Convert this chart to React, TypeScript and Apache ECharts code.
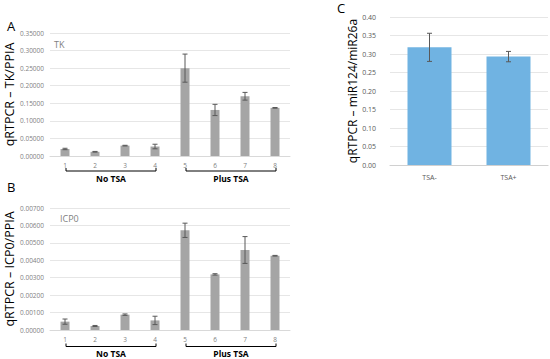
import React, { useEffect, useRef } from "react";
import * as echarts from "echarts";

const catsAB = ["1", "2", "3", "4", "5", "6", "7", "8"];
const tkValues = [0.020, 0.012, 0.0295, 0.027, 0.250, 0.131, 0.170, 0.137];
const tkErrors = [0.002, 0.001, 0.001, 0.0065, 0.040, 0.016, 0.011, 0.001];
const icp0Values = [0.00048, 0.00023, 0.00088, 0.00055, 0.00572, 0.00319, 0.00459, 0.00426];
const icp0Errors = [0.00015, 0.00003, 0.00004, 0.00024, 0.00041, 0.00004, 0.00077, 0.00002];
const catsC = ["TSA-", "TSA+"];
const mirValues = [0.318, 0.293];
const mirErrors = [0.038, 0.014];
const groupLabels = ["No TSA", "Plus TSA"];

const FONT = "'Open Sans', 'Noto Sans', sans-serif";
const GREY_BAR = "#a5a5a5";
const BLUE_BAR = "#70b3e2";
const TICK_COLOR = "#7f7f7f";
const GRID_COLOR = "#e6e6e6";

function errData(vals: number[], errs: number[]) {
  return vals.map((v, i) => [i, v - errs[i], v + errs[i]]);
}

function errRender(cap: number) {
  return (params: any, api: any) => {
    const i = api.value(0);
    const lo = api.coord([i, api.value(1)]);
    const hi = api.coord([i, api.value(2)]);
    const st = { stroke: "#595959", lineWidth: 1 };
    return {
      type: "group",
      children: [
        { type: "line", shape: { x1: hi[0], y1: hi[1], x2: lo[0], y2: lo[1] }, style: st },
        { type: "line", shape: { x1: hi[0] - cap, y1: hi[1], x2: hi[0] + cap, y2: hi[1] }, style: st },
        { type: "line", shape: { x1: lo[0] - cap, y1: lo[1], x2: lo[0] + cap, y2: lo[1] }, style: st },
      ],
    };
  };
}

function yAxisAB(gridIndex: number, max: number, interval: number, name: string) {
  return {
    type: "value",
    gridIndex,
    min: 0,
    max,
    interval,
    axisLine: { show: false },
    axisTick: { show: false },
    axisLabel: {
      fontSize: 6.5,
      color: TICK_COLOR,
      fontFamily: FONT,
      margin: 6,
      formatter: (v: number) => v.toFixed(5),
    },
    splitLine: { lineStyle: { color: GRID_COLOR } },
    name,
    nameLocation: "middle",
    nameGap: 31,
    nameTextStyle: { fontSize: 12.5, color: "#000", fontFamily: FONT },
  };
}

function xAxisAB(gridIndex: number) {
  return {
    type: "category",
    gridIndex,
    data: catsAB,
    axisLine: { lineStyle: { color: "#d9d9d9" } },
    axisTick: { show: false },
    axisLabel: { fontSize: 6.5, color: TICK_COLOR, fontFamily: FONT, margin: 6 },
  };
}

export default function App() {
  const ref = useRef<HTMLDivElement>(null);
  useEffect(() => {
    if (!ref.current) return;
    const chart = echarts.init(ref.current, null, { renderer: "svg" });
    const option: any = {
      animation: false,
      backgroundColor: "#fff",
      textStyle: { fontFamily: FONT },
      grid: [
        { left: 50, top: 33, width: 240, height: 123 },
        { left: 50, top: 208, width: 240, height: 122 },
        { left: 390, top: 17, width: 158, height: 148 },
      ],
      xAxis: [
        xAxisAB(0),
        xAxisAB(1),
        {
          type: "category",
          gridIndex: 2,
          data: catsC,
          axisLine: { lineStyle: { color: "#d0d0d0", width: 1.2 } },
          axisTick: { show: false },
          axisLabel: { fontSize: 7, color: "#595959", fontFamily: FONT, margin: 9 },
        },
      ],
      yAxis: [
        yAxisAB(0, 0.35, 0.05, "qRTPCR – TK/PPIA"),
        yAxisAB(1, 0.007, 0.001, "qRTPCR – ICP0/PPIA"),
        {
          type: "value",
          gridIndex: 2,
          min: 0,
          max: 0.4,
          interval: 0.05,
          axisLine: { show: false },
          axisTick: { show: false },
          axisLabel: {
            fontSize: 7,
            color: "#595959",
            fontFamily: FONT,
            margin: 14,
            formatter: (v: number) => v.toFixed(2),
          },
          splitLine: { lineStyle: { color: GRID_COLOR } },
          name: "qRTPCR – miR124/miR26a",
          nameLocation: "middle",
          nameGap: 26,
          nameTextStyle: { fontSize: 12, color: "#000", fontFamily: FONT },
        },
      ],
      series: [
        { type: "bar", xAxisIndex: 0, yAxisIndex: 0, data: tkValues, barWidth: 9, itemStyle: { color: GREY_BAR } },
        {
          type: "custom", xAxisIndex: 0, yAxisIndex: 0, data: errData(tkValues, tkErrors),
          renderItem: errRender(2.5), encode: { x: 0, y: [1, 2] }, z: 5,
        },
        { type: "bar", xAxisIndex: 1, yAxisIndex: 1, data: icp0Values, barWidth: 9, itemStyle: { color: GREY_BAR } },
        {
          type: "custom", xAxisIndex: 1, yAxisIndex: 1, data: errData(icp0Values, icp0Errors),
          renderItem: errRender(2.5), encode: { x: 0, y: [1, 2] }, z: 5,
        },
        { type: "bar", xAxisIndex: 2, yAxisIndex: 2, data: mirValues, barWidth: 44, itemStyle: { color: BLUE_BAR } },
        {
          type: "custom", xAxisIndex: 2, yAxisIndex: 2, data: errData(mirValues, mirErrors),
          renderItem: errRender(2.5), encode: { x: 0, y: [1, 2] }, z: 5,
        },
      ],
    };
    chart.setOption(option);

    // annotations: brackets and group labels under panels A and B
    const graphics: any[] = [];
    const panels = [
      { grid: 0, y: 171, ty: 178 },
      { grid: 1, y: 346.5, ty: 353 },
    ];
    panels.forEach((p) => {
      [[0, 3], [4, 7]].forEach(([a, b], gi) => {
        const xa = chart.convertToPixel({ xAxisIndex: p.grid, yAxisIndex: p.grid }, [a, 0])[0] + 1;
        const xb = chart.convertToPixel({ xAxisIndex: p.grid, yAxisIndex: p.grid }, [b, 0])[0] + 1;
        graphics.push({
          type: "polyline",
          shape: { points: [[xa, p.y - 3], [xa, p.y], [xb, p.y], [xb, p.y - 3]] },
          style: { stroke: "#000", lineWidth: 1, fill: null },
        });
        graphics.push({
          type: "text",
          x: (xa + xb) / 2,
          y: p.ty,
          style: {
            text: groupLabels[gi],
            fontSize: 8.5,
            fontWeight: "bold",
            fontFamily: FONT,
            fill: "#000",
            align: "center",
            verticalAlign: "middle",
          },
        });
      });
    });
    const letters = [
      { t: "A", x: 7, y: 26 },
      { t: "B", x: 7, y: 187 },
      { t: "C", x: 337, y: 8 },
    ];
    letters.forEach((l) =>
      graphics.push({
        type: "text",
        x: l.x,
        y: l.y,
        style: { text: l.t, fontSize: 13, fontFamily: FONT, fill: "#000", verticalAlign: "middle" },
      })
    );
    graphics.push({
      type: "text", x: 54, y: 44,
      style: { text: "TK", fontSize: 9, fontFamily: FONT, fill: "#7f7f7f", verticalAlign: "middle" },
    });
    graphics.push({
      type: "text", x: 60, y: 218,
      style: { text: "ICP0", fontSize: 9, fontFamily: FONT, fill: "#7f7f7f", verticalAlign: "middle" },
    });
    chart.setOption({ graphic: graphics });

    return () => chart.dispose();
  }, []);
  return <div ref={ref} style={{ width: 550, height: 359, position: "absolute", left: 0, top: 0 }} />;
}
